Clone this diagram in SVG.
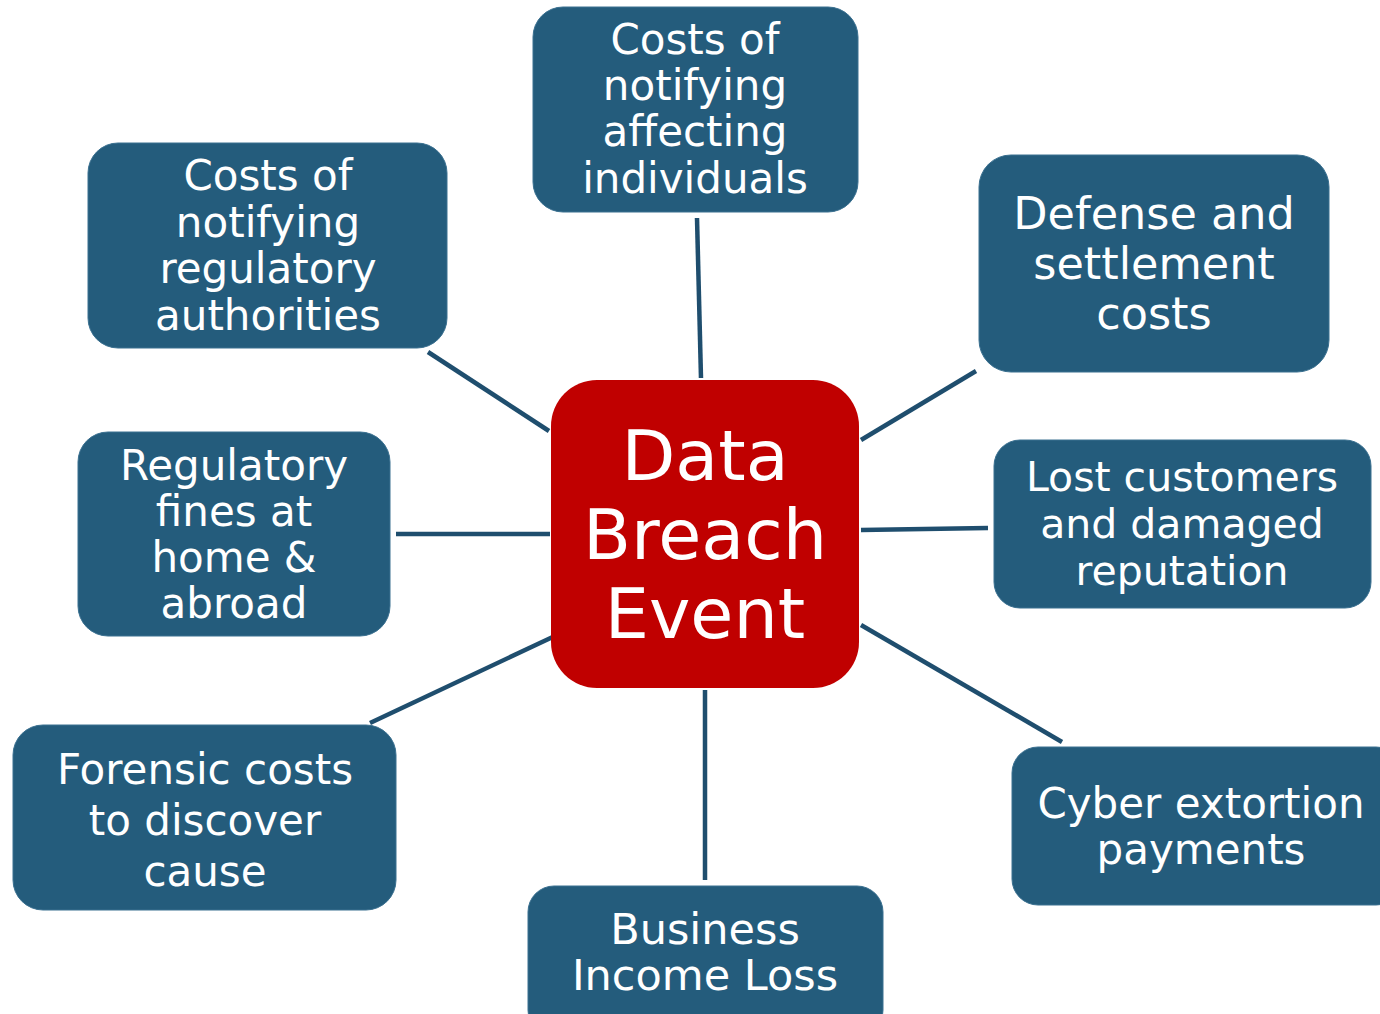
<svg xmlns="http://www.w3.org/2000/svg" width="1380" height="1014" viewBox="0 0 1380 1014">
<style>
.box{fill:#245C7C;stroke:#3A7090;stroke-width:1}
.t{font-family:"DejaVu Sans","Verdana",sans-serif;font-size:42px;fill:#fff;text-anchor:middle}
.c{stroke:#1F4E6E;stroke-width:4.5;fill:none}
</style>
<rect width="1380" height="1014" fill="#fff"/>
<g id="connectors">
<line class="c" x1="697" y1="218" x2="701" y2="378"/>
<line class="c" x1="428" y1="352" x2="549" y2="431"/>
<line class="c" x1="976" y1="371" x2="861" y2="440"/>
<line class="c" x1="396" y1="534" x2="550" y2="534"/>
<line class="c" x1="861" y1="530" x2="988" y2="528"/>
<line class="c" x1="370" y1="723" x2="557" y2="635"/>
<line class="c" x1="861" y1="625" x2="1062" y2="742"/>
<line class="c" x1="705" y1="690" x2="705" y2="880"/>
</g>
<g id="center">
<rect x="551" y="380" width="308" height="308" rx="46" fill="#C00000"/>
<text class="t" style="font-size:70px" x="705"><tspan x="705" y="480">Data</tspan><tspan x="705" y="559">Breach</tspan><tspan x="705" y="638">Event</tspan></text>
</g>
<g id="n-individuals">
<rect class="box" x="533" y="7" width="325" height="205" rx="30"/>
<text class="t" x="695"><tspan x="695" y="54">Costs of</tspan><tspan x="695" y="100">notifying</tspan><tspan x="695" y="146">affecting</tspan><tspan x="695" y="193">individuals</tspan></text>
</g>
<g id="n-regulatory">
<rect class="box" x="88" y="143" width="359" height="205" rx="30"/>
<text class="t" x="268"><tspan x="268" y="190">Costs of</tspan><tspan x="268" y="237">notifying</tspan><tspan x="268" y="283">regulatory</tspan><tspan x="268" y="330">authorities</tspan></text>
</g>
<g id="n-defense">
<rect class="box" x="979" y="155" width="350" height="217" rx="32"/>
<text class="t" style="font-size:44.5px" x="1154"><tspan x="1154" y="229">Defense and</tspan><tspan x="1154" y="279">settlement</tspan><tspan x="1154" y="329">costs</tspan></text>
</g>
<g id="n-fines">
<rect class="box" x="78" y="432" width="312" height="204" rx="30"/>
<text class="t" x="234"><tspan x="234" y="480">Regulatory</tspan><tspan x="234" y="526">fines at</tspan><tspan x="234" y="572">home &amp;</tspan><tspan x="234" y="618">abroad</tspan></text>
</g>
<g id="n-customers">
<rect class="box" x="994" y="440" width="377" height="168" rx="26"/>
<text class="t" style="font-size:41px" x="1182"><tspan x="1182" y="491">Lost customers</tspan><tspan x="1182" y="538">and damaged</tspan><tspan x="1182" y="585">reputation</tspan></text>
</g>
<g id="n-forensic">
<rect class="box" x="13" y="725" width="383" height="185" rx="30"/>
<text class="t" x="205"><tspan x="205" y="784">Forensic costs</tspan><tspan x="205" y="835">to discover</tspan><tspan x="205" y="886">cause</tspan></text>
</g>
<g id="n-extortion">
<rect class="box" x="1012" y="747" width="390" height="158" rx="26"/>
<text class="t" x="1201"><tspan x="1201" y="818">Cyber extortion</tspan><tspan x="1201" y="864">payments</tspan></text>
</g>
<g id="n-income">
<rect class="box" x="528" y="886" width="355" height="150" rx="26"/>
<text class="t" style="font-size:43px" x="705"><tspan x="705" y="944">Business</tspan><tspan x="705" y="990">Income Loss</tspan></text>
</g>
</svg>
